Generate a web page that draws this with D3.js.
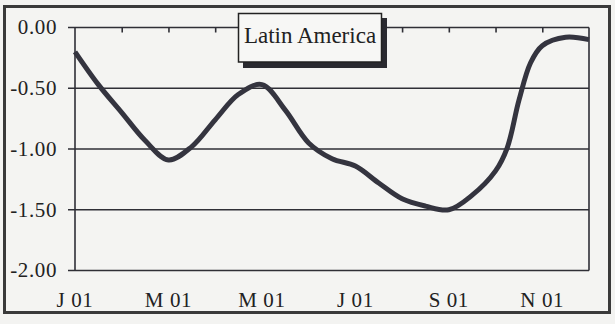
<!DOCTYPE html>
<html><head><meta charset="utf-8">
<script src="https://cdn.jsdelivr.net/npm/d3@7"></script>
<style>html,body{margin:0;padding:0;background:#f3f3f1;}svg{display:block;}</style>
</head><body>
<svg id="c" width="615" height="324"></svg>
<script>
const title = "Latin America";
const months = [0,0.5,1,1.5,2,2.5,3,3.5,4,4.5,5,5.5,6,6.5,7,7.5,8,8.5,9,9.25,9.5,9.75,10,10.5,11];
const values = [-0.20,-0.47,-0.70,-0.93,-1.09,-0.98,-0.76,-0.55,-0.47,-0.68,-0.95,-1.08,-1.14,-1.28,-1.41,-1.47,-1.50,-1.38,-1.18,-0.99,-0.60,-0.29,-0.15,-0.08,-0.10];
const xTickMonths = [0,2,4,6,8,10];
const xTickLabels = ["J 01","M 01","M 01","J 01","S 01","N 01"];
const yTicks = [0,-0.5,-1.0,-1.5,-2.0];

const svg = d3.select("#c");
const ink = "#2f2f36";
const L = 75, R = 589, T = 27.5, B = 270.5;
const x = d3.scaleLinear().domain([0,11]).range([L,R]);
const y = d3.scaleLinear().domain([-2,0]).range([B,T]);

// outer border
svg.append("rect").attr("x",4.5).attr("y",6.5).attr("width",605).attr("height",306)
  .attr("fill","#f4f4f2").attr("stroke","#3a3a3a").attr("stroke-width",3);

// gridlines
svg.append("g").selectAll("line").data(yTicks).join("line")
  .attr("x1",L-7).attr("x2",R).attr("y1",d=>y(d)).attr("y2",d=>y(d))
  .attr("stroke",ink).attr("stroke-width",1.6);
// plot sides
svg.append("line").attr("x1",L).attr("x2",L).attr("y1",T).attr("y2",B).attr("stroke",ink).attr("stroke-width",1.6);
svg.append("line").attr("x1",R).attr("x2",R).attr("y1",T).attr("y2",B).attr("stroke",ink).attr("stroke-width",1.6);

// y labels
svg.append("g").selectAll("text").data(yTicks).join("text")
  .attr("x",57).attr("y",d=>y(d)).attr("dy","0.33em").attr("text-anchor","end")
  .attr("font-family","Liberation Serif").attr("font-size",21).attr("letter-spacing","0.6px").attr("fill","#222")
  .text(d=>d3.format(".2f")(d).replace("\u2212","-"));

// top axis ticks (inward)
const topAxis = d3.axisBottom(x).tickValues(d3.range(1,11)).tickSize(5).tickFormat("");
const ga = svg.append("g").attr("transform",`translate(0,${T})`).call(topAxis);
ga.select(".domain").remove();
ga.selectAll("line").attr("stroke",ink).attr("stroke-width",1.6);

// x labels
svg.append("g").selectAll("text").data(xTickMonths).join("text")
  .attr("x",d=>x(d)).attr("y",307).attr("text-anchor","middle")
  .attr("font-family","Liberation Serif").attr("font-size",21).attr("letter-spacing","0.6px").attr("fill","#222")
  .text((d,i)=>xTickLabels[i]);

// line
const line = d3.line().x(d=>x(d[0])).y(d=>y(d[1])).curve(d3.curveCatmullRom.alpha(0.5));
svg.append("path").datum(months.map((m,i)=>[m,values[i]]))
  .attr("d",line).attr("fill","none").attr("stroke","#34343f").attr("stroke-width",5)
  .attr("stroke-linejoin","round").attr("stroke-linecap","butt");

// title box with shadow
svg.append("rect").attr("x",243).attr("y",18).attr("width",144).attr("height",50).attr("fill","#2a2a30");
svg.append("rect").attr("x",238.5).attr("y",13.5).attr("width",143).attr("height",48.5)
  .attr("fill","#f7f7f5").attr("stroke","#222").attr("stroke-width",1.5);
svg.append("text").attr("x",310).attr("y",42.5).attr("text-anchor","middle")
  .attr("font-family","Liberation Serif").attr("font-size",23).attr("fill","#222").text(title);
</script>
</body></html>
